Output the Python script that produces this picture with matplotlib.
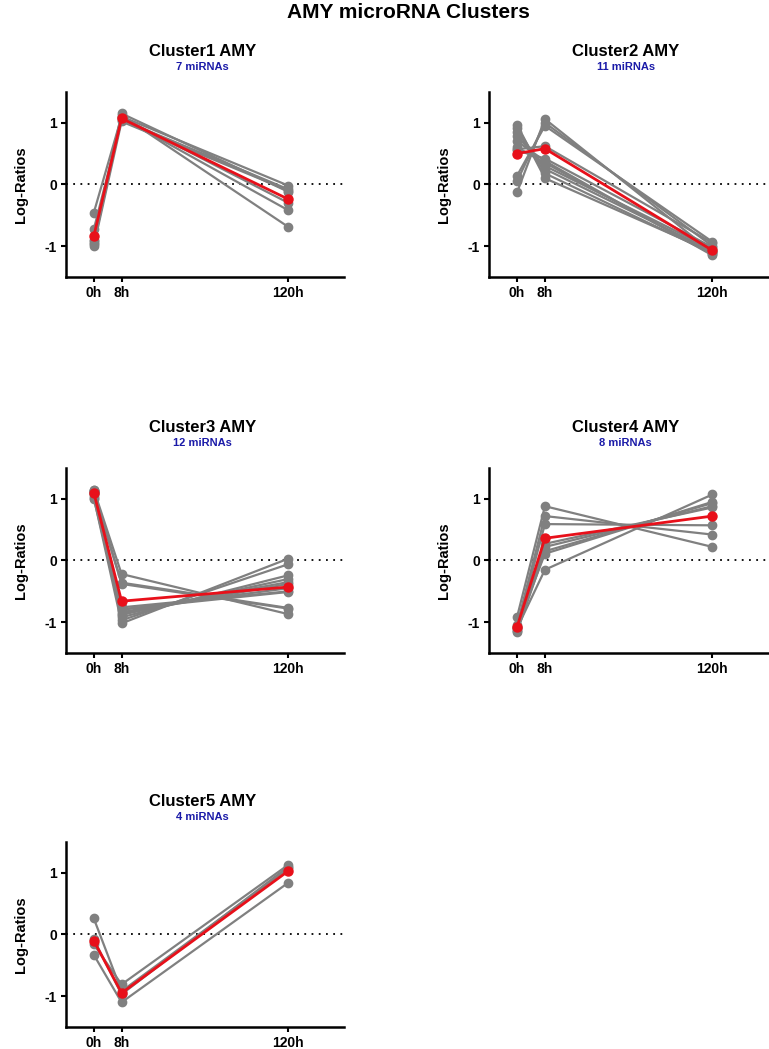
import matplotlib
matplotlib.use("Agg")
import matplotlib.pyplot as plt

plt.rcParams['font.family'] = ['Liberation Sans', 'DejaVu Sans']
plt.rcParams['font.weight'] = 'bold'

# Données
temps = ["0h", "8h", "120h"]
positions = [0, 1, 7]

titres = ["Cluster1 AMY", "Cluster2 AMY", "Cluster3 AMY", "Cluster4 AMY", "Cluster5 AMY"]
nb_mirnas = ["7 miRNAs", "11 miRNAs", "12 miRNAs", "8 miRNAs", "4 miRNAs"]

c1_0h = [-0.46, -0.73, -0.92, -0.95, -0.97, -1.00, -0.90]
c1_8h = [1.10, 1.05, 1.15, 1.08, 1.12, 1.02, 1.09]
c1_120h = [-0.02, -0.08, -0.12, -0.42, -0.69, -0.10, -0.30]
c1_moy = [-0.84, 1.07, -0.24]

c2_0h = [0.97, 0.92, 0.85, 0.78, 0.70, 0.57, 0.55, 0.14, 0.05, -0.13, 0.60]
c2_8h = [0.10, 0.18, 0.25, 0.30, 0.38, 0.62, 0.42, 0.95, 1.00, 1.06, 0.35]
c2_120h = [-1.10, -1.12, -1.08, -1.05, -1.15, -0.95, -1.02, -0.93, -1.00, -1.10, -1.13]
c2_moy = [0.50, 0.58, -1.07]

c3_0h = [1.15, 1.12, 1.10, 1.08, 1.05, 1.00, 1.13, 1.11, 1.14, 1.02, 1.09, 1.12]
c3_8h = [-0.22, -0.36, -0.38, -0.76, -0.80, -0.84, -0.88, -0.92, -0.97, -1.02, -0.79, -0.86]
c3_120h = [-0.87, -0.77, -0.78, -0.50, -0.45, -0.35, -0.30, -0.24, -0.06, 0.03, -0.51, -0.38]
c3_moy = [1.10, -0.66, -0.43]

c4_0h = [-0.92, -1.05, -1.10, -1.12, -1.14, -1.16, -1.08, -1.10]
c4_8h = [0.88, 0.72, 0.59, 0.27, 0.22, 0.15, 0.11, -0.15]
c4_120h = [0.22, 0.42, 0.57, 0.86, 0.88, 0.93, 0.95, 1.07]
c4_moy = [-1.08, 0.36, 0.72]

c5_0h = [0.26, -0.08, -0.16, -0.33]
c5_8h = [-0.92, -0.97, -0.81, -1.10]
c5_120h = [1.07, 1.10, 1.13, 0.84]
c5_moy = [-0.10, -0.95, 1.03]

clusters = [
    (c1_0h, c1_8h, c1_120h, c1_moy),
    (c2_0h, c2_8h, c2_120h, c2_moy),
    (c3_0h, c3_8h, c3_120h, c3_moy),
    (c4_0h, c4_8h, c4_120h, c4_moy),
    (c5_0h, c5_8h, c5_120h, c5_moy),
]

fig = plt.figure(figsize=(7.69, 10.49), dpi=100)
fig.text(0.531, 0.997, "AMY microRNA Clusters", ha="center", va="top",
         fontsize=15, fontweight="bold")

# positions des axes en fractions de figure (gauche, bas, largeur, hauteur)
cadres = [
    (0.0858, 0.736, 0.3615, 0.1764),
    (0.636, 0.736, 0.363, 0.1764),
    (0.0858, 0.3775, 0.3615, 0.1764),
    (0.636, 0.3775, 0.363, 0.1764),
    (0.0858, 0.021, 0.3615, 0.1764),
]

for i in range(5):
    ax = fig.add_axes(cadres[i])
    v0, v8, v120, moy = clusters[i]
    ax.axhline(0, color="black", linestyle=(0, (1, 3)), linewidth=1.3, zorder=1)
    for a, b, c in zip(v0, v8, v120):
        ax.plot(positions, [a, b, c], color="#808080", linewidth=1.6,
                marker="o", markersize=6, zorder=2)
    ax.plot(positions, moy, color="#e8101a", linewidth=2, marker="o",
            markersize=6.5, zorder=3)
    ax.set_xlim(-1, 9)
    ax.set_ylim(-1.5, 1.5)
    ax.set_xticks(positions)
    ax.set_xticklabels(temps)
    ax.set_yticks([-1, 0, 1])
    ax.set_yticklabels(["-1", "0", "1"])
    ax.tick_params(labelsize=10, width=1.5, length=3.5, pad=3)
    for t in ax.get_xticklabels() + ax.get_yticklabels():
        t.set_fontweight("bold")
    for s in ["top", "right"]:
        ax.spines[s].set_visible(False)
    for s in ["left", "bottom"]:
        ax.spines[s].set_linewidth(1.8)
    ax.set_ylabel("Log-Ratios", fontsize=10.5, fontweight="bold", labelpad=12)
    ax.text(0.49, 1.22, titres[i], transform=ax.transAxes, ha="center",
            va="center", fontsize=12, fontweight="bold")
    ax.text(0.49, 1.135, nb_mirnas[i], transform=ax.transAxes, ha="center",
            va="center", fontsize=8, fontweight="bold", color="#1a1aa8")

plt.savefig("out.png", dpi=100)
